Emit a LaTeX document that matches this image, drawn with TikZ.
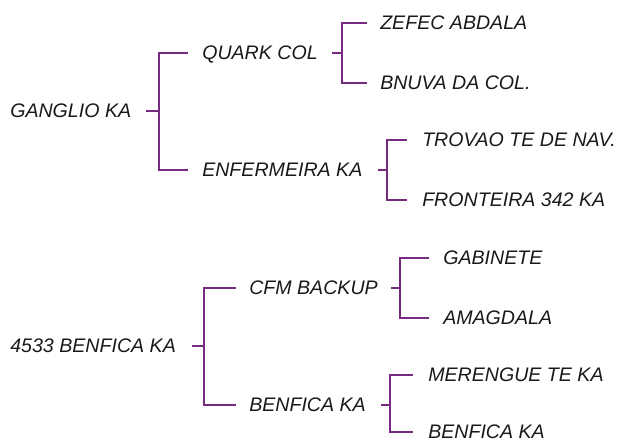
\documentclass[tikz,border=0pt]{standalone}
\usepackage{fontspec}
\setmainfont{Liberation Sans}
\definecolor{brkpurple}{RGB}{118,42,128}
\tikzset{
  lbl/.style={anchor=west, inner sep=0pt, text height=10.4pt, text depth=0pt, font=\fontsize{14.7}{18}\selectfont\itshape, text={rgb,255:red,25;green,25;blue,25}},
  brk/.style={draw=brkpurple, line width=1.5pt},
}
\begin{document}
\begin{tikzpicture}[x=0.75pt,y=0.75pt,yscale=-1]
\useasboundingbox (0,0) rectangle (618,441);

% Text Node
\node (gan) [lbl] at (10,111) {GANGLIO KA};
\node (qua) [lbl] at (202,53) {QUARK COL};
\node (enf) [lbl] at (202,170) {ENFERMEIRA KA};
\node (zef) [lbl] at (380,23) {ZEFEC ABDALA};
\node (bnu) [lbl] at (380,83) {BNUVA DA COL.};
\node (tro) [lbl] at (422,140) {TROVAO TE DE NAV.};
\node (fro) [lbl] at (422,200) {FRONTEIRA 342 KA};
% Text Node
\node (ben) [lbl] at (10,346) {4533 BENFICA KA};
\node (cfm) [lbl] at (249,288) {CFM BACKUP};
\node (bka) [lbl] at (249,405) {BENFICA KA};
\node (gab) [lbl] at (443,258) {GABINETE};
\node (ama) [lbl] at (443,318) {AMAGDALA};
\node (mer) [lbl] at (428,375) {MERENGUE TE KA};
\node (bkb) [lbl] at (428,432) {BENFICA KA};

%Brackets
\draw [brk] (gan.east) ++(15,0) -- ++(13,0) |- ([xshift=-10.5pt]qua.west);
\draw [brk] (gan.east) ++(28,0) |- ([xshift=-10.5pt]enf.west);
\draw [brk] (qua.east) ++(14,0) -- ++(10,0) |- ([xshift=-10pt]zef.west);
\draw [brk] (qua.east) ++(24,0) |- ([xshift=-10pt]bnu.west);
\draw [brk] (enf.east) ++(15,0) -- ++(9,0) |- ([xshift=-11pt]tro.west);
\draw [brk] (enf.east) ++(24,0) |- ([xshift=-11pt]fro.west);
%Brackets
\draw [brk] (ben.east) ++(16,0) -- ++(12,0) |- ([xshift=-10pt]cfm.west);
\draw [brk] (ben.east) ++(28,0) |- ([xshift=-10pt]bka.west);
\draw [brk] (cfm.east) ++(13,0) -- ++(9,0) |- ([xshift=-10.5pt]gab.west);
\draw [brk] (cfm.east) ++(22,0) |- ([xshift=-10.5pt]ama.west);
\draw [brk] (bka.east) ++(15,0) -- ++(9,0) |- ([xshift=-11pt]mer.west);
\draw [brk] (bka.east) ++(24,0) |- ([xshift=-11pt]bkb.west);

\end{tikzpicture}
\end{document}
